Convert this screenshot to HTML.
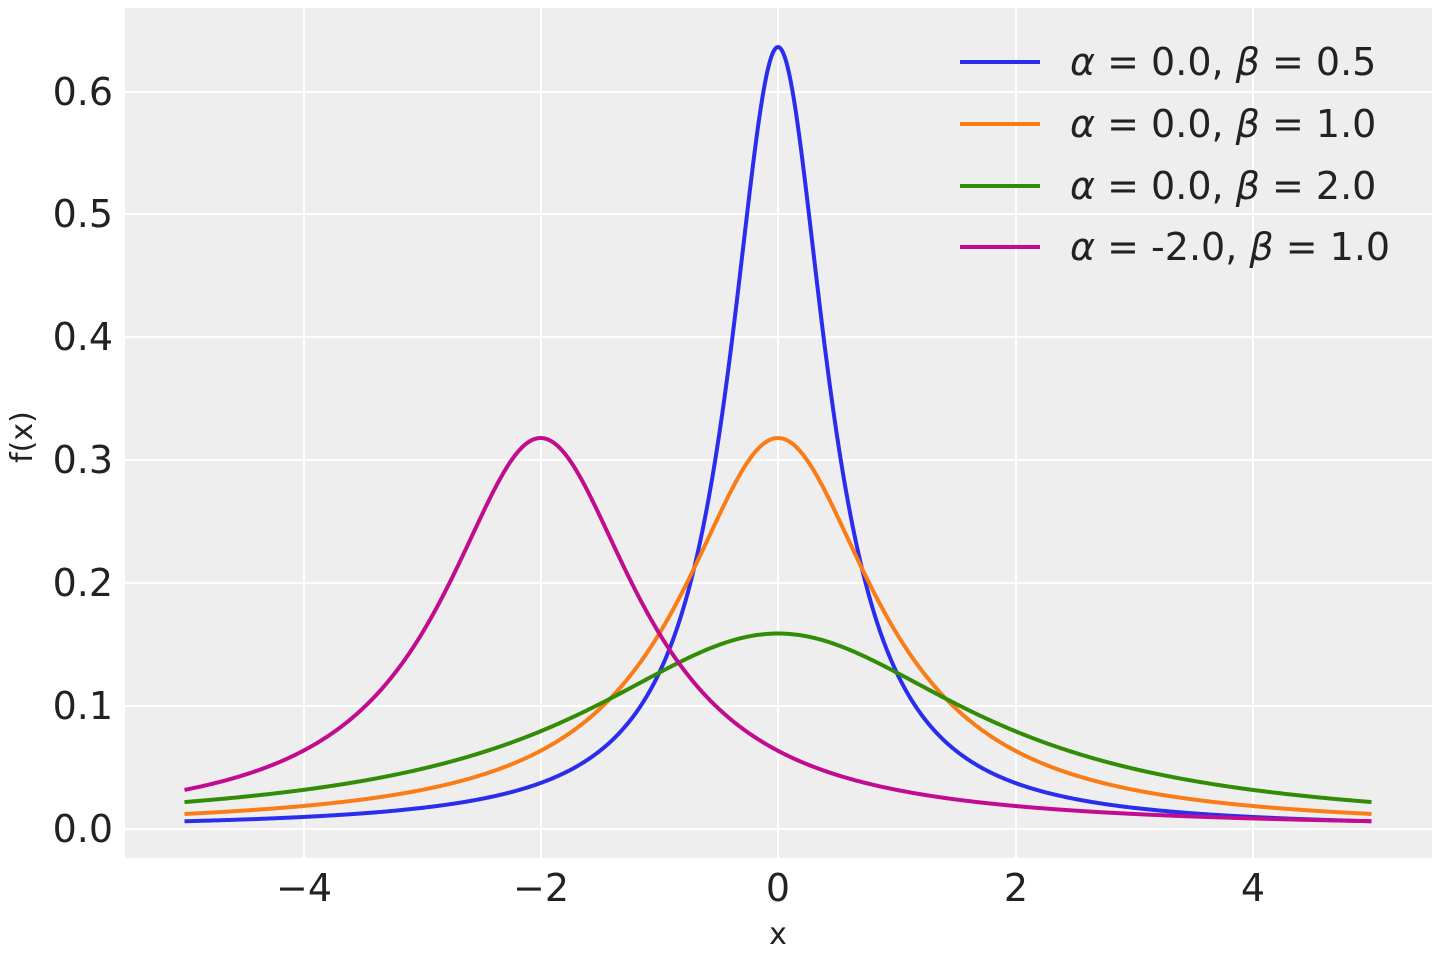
<!DOCTYPE html>
<html><head><meta charset="utf-8"><style>
html,body{margin:0;padding:0;background:#fff;}
svg{display:block;font-family:"DejaVu Sans","Liberation Sans",sans-serif;}
</style></head><body>
<svg id="s" width="1440" height="960" xmlns="http://www.w3.org/2000/svg">
<rect x="125" y="8" width="1307" height="850" fill="#eeeeee"/>
<g stroke="#ffffff" stroke-width="2">
<line x1="304" y1="8" x2="304" y2="858"/><line x1="541" y1="8" x2="541" y2="858"/><line x1="778" y1="8" x2="778" y2="858"/><line x1="1016" y1="8" x2="1016" y2="858"/><line x1="1253" y1="8" x2="1253" y2="858"/>
<line x1="125" y1="829" x2="1432" y2="829"/><line x1="125" y1="706" x2="1432" y2="706"/><line x1="125" y1="583" x2="1432" y2="583"/><line x1="125" y1="460" x2="1432" y2="460"/><line x1="125" y1="337" x2="1432" y2="337"/><line x1="125" y1="214" x2="1432" y2="214"/><line x1="125" y1="92" x2="1432" y2="92"/>
</g>
<g fill="#222" font-size="38" text-anchor="end">
<text x="113" y="842">0.0</text><text x="113" y="719">0.1</text><text x="113" y="596">0.2</text><text x="113" y="473">0.3</text><text x="113" y="350">0.4</text><text x="113" y="227">0.5</text><text x="113" y="105">0.6</text>
</g>
<g fill="#222" font-size="38" text-anchor="middle">
<text x="304" y="901">−4</text><text x="541" y="901">−2</text><text x="778" y="901">0</text><text x="1016" y="901">2</text><text x="1253" y="901">4</text>
<text x="778" y="944" font-size="30">x</text>
</g>
<text x="32" y="437" font-size="30" fill="#222" text-anchor="middle" transform="rotate(-90 32 437)">f(x)</text>
<g id="curves" fill="none" stroke-width="4"></g>
<g stroke-width="4">
<line x1="960" y1="62" x2="1040" y2="62" stroke="#2a2eec"/>
<line x1="960" y1="124" x2="1040" y2="124" stroke="#fa7c17"/>
<line x1="960" y1="186" x2="1040" y2="186" stroke="#328c06"/>
<line x1="960" y1="247" x2="1040" y2="247" stroke="#c10c90"/>
</g>
<g fill="#222" font-size="38">
<text x="1070" y="75"><tspan font-style="italic">α</tspan> = 0.0, <tspan font-style="italic">β</tspan> = 0.5</text>
<text x="1070" y="137"><tspan font-style="italic">α</tspan> = 0.0, <tspan font-style="italic">β</tspan> = 1.0</text>
<text x="1070" y="199"><tspan font-style="italic">α</tspan> = 0.0, <tspan font-style="italic">β</tspan> = 2.0</text>
<text x="1070" y="260"><tspan font-style="italic">α</tspan> = -2.0, <tspan font-style="italic">β</tspan> = 1.0</text>
</g>
</svg>
<script>
var g=document.getElementById('curves');
var P=[[0,0.5,'#2a2eec'],[0,1,'#fa7c17'],[0,2,'#328c06'],[-2,1,'#c10c90']];
P.forEach(function(p){var d='';for(var i=0;i<=1000;i++){var x=-5+i*0.01;var z=(x-p[0])/p[1];var y=1/(Math.PI*p[1]*(1+z*z));
var px=778+x*118.7, py=829-y*1228.3;d+=(i?'L':'M')+px.toFixed(2)+' '+py.toFixed(2);}
var e=document.createElementNS('http://www.w3.org/2000/svg','path');e.setAttribute('d',d);e.setAttribute('stroke',p[2]);g.appendChild(e);});
</script>
</body></html>
